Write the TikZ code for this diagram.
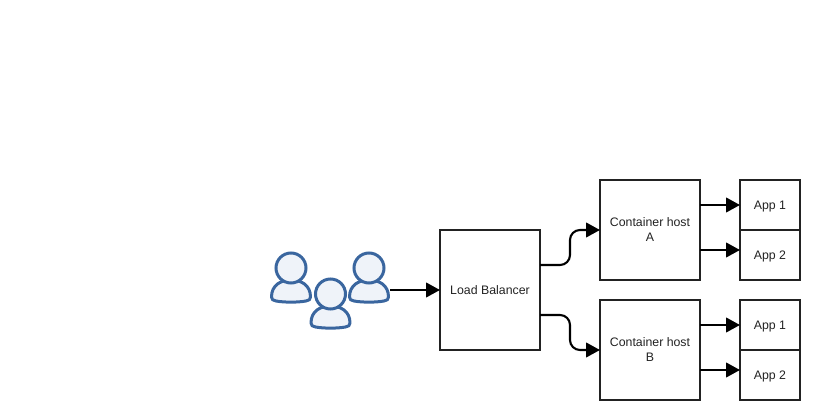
\documentclass[tikz,border=0pt]{standalone}
\usepackage{fontspec}
\setmainfont{Liberation Sans}
\usetikzlibrary{arrows.meta}

\definecolor{userblue}{HTML}{3A669F}
\definecolor{userfill}{HTML}{EFF3F9}
\definecolor{boxline}{HTML}{222222}

\tikzset{
	box/.style = {draw = boxline, line width = 1.5pt, outer sep = 0pt, inner sep = 1pt,
		align = center, font = \fontsize{9.25}{11.25}\selectfont, text = boxline},
	balancer/.style = {box, minimum width = 75pt, minimum height = 90pt},
	host/.style = {box, minimum width = 75pt, minimum height = 75pt},
	app/.style = {box, minimum width = 45pt, minimum height = 37.5pt, text depth = 0pt},
	link/.style = {-{Triangle[length = 10.5pt, width = 11pt]}, line width = 1.6pt, black},
	userhead/.style = {circle, draw = userblue, fill = userfill, line width = 2.25pt,
		minimum size = 22.5pt, inner sep = 0pt, outer sep = 0pt},
	userbody/.style = {draw = userblue, fill = userfill, line width = 2.25pt, line join = round}
}

\begin{document}
\begin{tikzpicture}[x = 0.75pt, y = -0.75pt]

	\useasboundingbox (0, 0) rectangle (826, 420);

	% Users

	\foreach \name/\x/\y in {userL/291/268, userR/369/268, userM/330.5/294} {
		\draw [userbody] (\x - 19.5, \y + 29) .. controls (\x - 19.5, \y + 17) and (\x - 10, \y + 12) .. (\x, \y + 12)
			.. controls (\x + 10, \y + 12) and (\x + 19.5, \y + 17) .. (\x + 19.5, \y + 29)
			.. controls (\x + 19.5, \y + 31.5) and (\x + 18, \y + 32.5) .. (\x + 15, \y + 33)
			.. controls (\x + 7, \y + 34.5) and (\x - 7, \y + 34.5) .. (\x - 15, \y + 33)
			.. controls (\x - 18, \y + 32.5) and (\x - 19.5, \y + 31.5) .. cycle;
		\node [userhead] (\name) at (\x, \y) {};
	}

	\coordinate (usersOut) at (390, 290);

	% Boxes

	\node [balancer] (balancer) at (490, 290) {Load Balancer};

	\node [host] (hostA) at (650, 230) {Container host\\A};
	\node [host] (hostB) at (650, 350) {Container host\\B};

	\node [app] (appA1) at (770, 205) {App 1};
	\node [app] (appA2) at (770, 255) {App 2};
	\node [app] (appB1) at (770, 325) {App 1};
	\node [app] (appB2) at (770, 375) {App 2};

	% Connectors

	\draw [link] (usersOut) -- (balancer.west);

	\coordinate (toA) at (540, 265);
	\coordinate (toB) at (540, 315);

	\draw [link, rounded corners = 7.5pt] (toA) -- (570, 265) -- (570, 230) -- (hostA.west);
	\draw [link, rounded corners = 7.5pt] (toB) -- (570, 315) -- (570, 350) -- (hostB.west);

	\foreach \h/\a/\ya/\yb in {hostA/appA1/205/250, hostB/appB1/325/370} {
		\coordinate (upper\h) at (700, \ya);
		\coordinate (lower\h) at (700, \yb);
		\draw [link] (upper\h) -- (\a.west);
	}

	\coordinate (endA2) at (740, 250);
	\coordinate (endB2) at (740, 370);

	\draw [link] (lowerhostA) -- (endA2);
	\draw [link] (lowerhostB) -- (endB2);

\end{tikzpicture}
\end{document}
